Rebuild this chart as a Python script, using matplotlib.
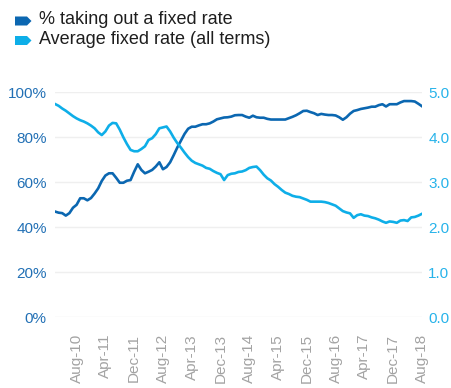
import matplotlib
matplotlib.use("Agg")
import matplotlib.pyplot as plt
from matplotlib.patches import Polygon

plt.rcParams['font.family'] = ['Liberation Sans', 'DejaVu Sans']

# Monthly data, Feb-10 .. Aug-18
months_start = "Feb-10"
pct_fixed = [47, 46.5, 46.3, 45.2, 46.3, 48.7, 50, 52.9, 52.9, 52,
             53, 55, 57.3, 60.6, 63, 64, 64, 62, 59.8, 59.8,
             60.7, 61, 64.7, 68, 65.5, 64, 64.7, 65.5, 67, 68.9,
             65.8, 66.8, 68.9, 72.1, 75.5, 78.5, 81.5, 83.8, 84.7, 84.7,
             85.3, 85.8, 85.8, 86.2, 87, 88, 88.4, 88.8, 88.9, 89.2,
             89.8, 89.9, 89.9, 89.2, 88.7, 89.6, 88.9, 88.7, 88.7, 88.2,
             87.9, 87.9, 87.9, 87.9, 87.9, 88.5, 89.1, 89.8, 90.7, 91.7,
             91.8, 91.2, 90.7, 89.9, 90.4, 90.1, 89.9, 89.9, 89.7, 88.9,
             87.8, 88.9, 90.5, 91.7, 92.1, 92.6, 92.9, 93.2, 93.6, 93.6,
             94.3, 94.7, 93.7, 94.7, 94.7, 94.7, 95.5, 96.1, 96.1, 96.1,
             95.9, 94.9, 93.8]
avg_rate = [4.74, 4.70, 4.64, 4.59, 4.53, 4.47, 4.42, 4.38, 4.35, 4.31,
            4.26, 4.20, 4.11, 4.05, 4.13, 4.26, 4.32, 4.31, 4.17, 4.00,
            3.85, 3.72, 3.69, 3.69, 3.74, 3.80, 3.94, 3.98, 4.07, 4.20,
            4.22, 4.24, 4.13, 3.99, 3.87, 3.77, 3.66, 3.56, 3.48, 3.43,
            3.40, 3.37, 3.32, 3.30, 3.25, 3.21, 3.18, 3.05, 3.16, 3.19,
            3.20, 3.23, 3.24, 3.27, 3.32, 3.34, 3.35, 3.27, 3.17, 3.09,
            3.04, 2.96, 2.90, 2.83, 2.77, 2.74, 2.70, 2.68, 2.67, 2.64,
            2.61, 2.57, 2.57, 2.57, 2.57, 2.56, 2.54, 2.51, 2.48, 2.42,
            2.36, 2.33, 2.31, 2.21, 2.27, 2.29, 2.26, 2.25, 2.22, 2.20,
            2.17, 2.13, 2.10, 2.13, 2.12, 2.10, 2.15, 2.16, 2.14, 2.22,
            2.23, 2.26, 2.30]
tick_labels = ["Aug-10", "Apr-11", "Dec-11", "Aug-12", "Apr-13", "Dec-13", "Aug-14",
               "Apr-15", "Dec-15", "Aug-16", "Apr-17", "Dec-17", "Aug-18"]
left_ticks = [0, 20, 40, 60, 80, 100]
right_ticks = [0.0, 1.0, 2.0, 3.0, 4.0, 5.0]
series_names = ["% taking out a fixed rate", "Average fixed rate (all terms)"]

DARK = "#0b67b1"
LIGHT = "#0eaee8"
DARK_TXT = "#2270b5"
LIGHT_TXT = "#27b3ea"
GRAY_TXT = "#a3a3a3"

W, H = 451, 388
fig = plt.figure(figsize=(W / 100, H / 100), dpi=100)
x0, x1, ytop, ybot = 55, 422, 92.3, 317.3
ax = fig.add_axes([x0 / W, 1 - ybot / H, (x1 - x0) / W, (ybot - ytop) / H])
ax2 = ax.twinx()

x = list(range(len(pct_fixed)))
ax.plot(x, pct_fixed, color=DARK, lw=1.9, solid_joinstyle='round', zorder=3)
ax2.plot(x, avg_rate, color=LIGHT, lw=1.9, solid_joinstyle='round', zorder=3)

ax.set_xlim(0, len(x) - 1)
ax.set_ylim(0, 100)
ax2.set_ylim(0, 5)
ax.set_yticks(left_ticks)
ax.set_yticklabels([f"{v}%" for v in left_ticks])
ax2.set_yticks(right_ticks)
ax2.set_yticklabels([f"{v:.1f}" for v in right_ticks])
tick_pos = [6 + 8 * i for i in range(len(tick_labels))]
ax.set_xticks(tick_pos)
ax.set_xticklabels(tick_labels, rotation=90, va='top', ha='center')

for a in (ax, ax2):
    for s in a.spines.values():
        s.set_visible(False)
    a.patch.set_visible(False)
ax.grid(axis='y', color='#efefef', lw=1)
ax.set_axisbelow(True)
ax.tick_params(axis='y', length=0, pad=6, labelsize=11, labelcolor=DARK_TXT)
ax2.tick_params(axis='y', length=0, pad=4.5, labelsize=11, labelcolor=LIGHT_TXT)
ax.tick_params(axis='x', length=0, pad=12, labelsize=11, labelcolor=GRAY_TXT)

# legend with arrow-shaped markers
def px(xp, yp):
    return (xp / W, 1 - yp / H)

for i, (name, col) in enumerate(zip(series_names, [DARK, LIGHT])):
    yc = 21 + i * 19.5
    pts = [px(15, yc - 4.5), px(27, yc - 4.5), px(31.5, yc), px(27, yc + 4.5), px(15, yc + 4.5)]
    fig.add_artist(Polygon(pts, closed=True, transform=fig.transFigure,
                           facecolor=col, edgecolor='none'))
    fig.text(39 / W, 1 - (yc - 1.5) / H, name, fontsize=13, color='#1e1e1e',
             va='center', ha='left')

fig.savefig("out.png", dpi=100)
